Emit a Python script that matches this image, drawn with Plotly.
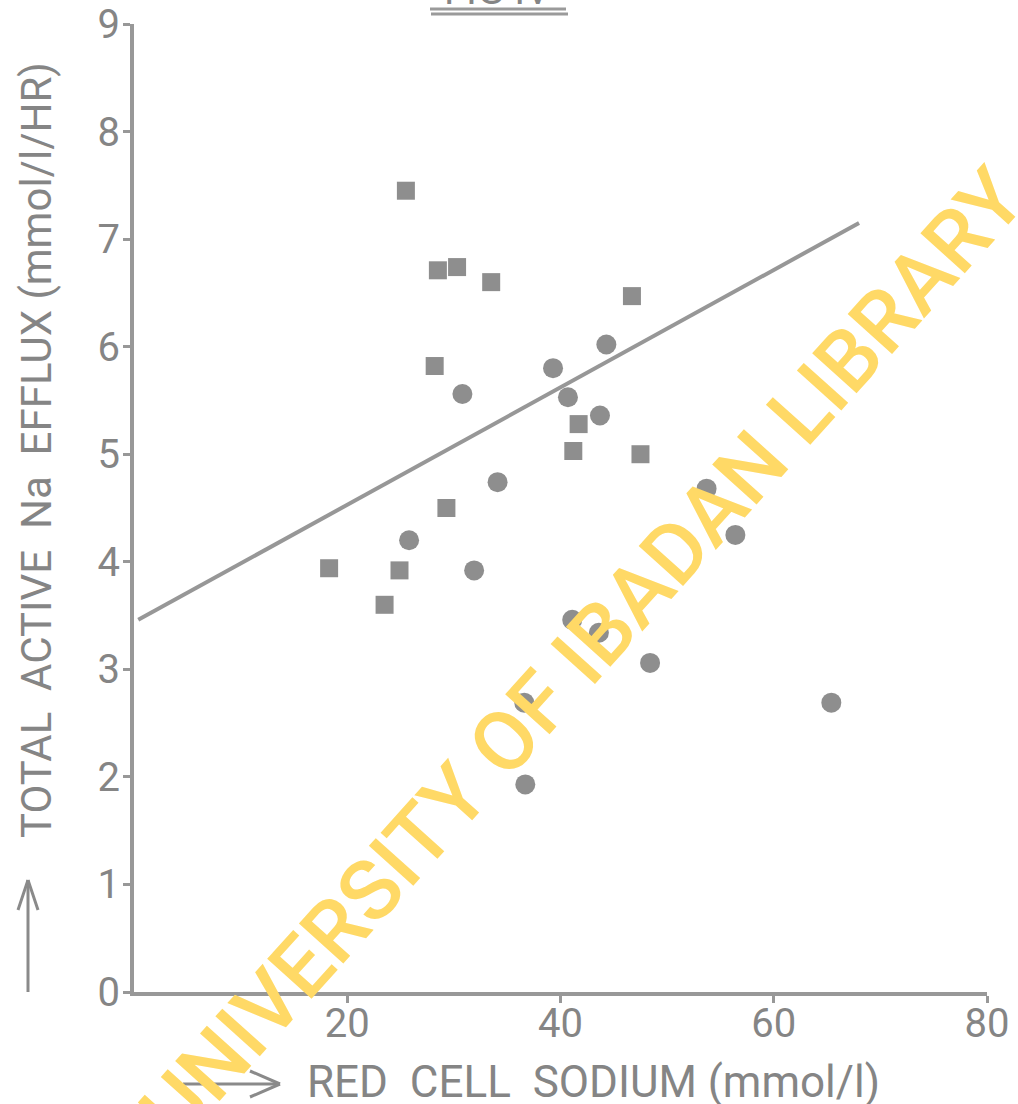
import plotly.graph_objects as go

# Red cell sodium (mmol/l) vs total active Na efflux (mmol/l/HR)
square_x = [25.5, 28.5, 30.3, 33.5, 46.7, 28.2, 41.7, 41.2, 47.5, 29.3, 18.3, 24.9, 23.5]
square_y = [7.45, 6.71, 6.74, 6.60, 6.47, 5.82, 5.28, 5.03, 5.00, 4.50, 3.94, 3.92, 3.60]

circle_x = [39.3, 44.3, 30.8, 40.7, 43.7, 34.1, 25.8, 31.9, 53.7, 56.4, 41.1, 43.6, 48.4, 36.6, 36.7, 65.4]
circle_y = [5.80, 6.02, 5.56, 5.53, 5.36, 4.74, 4.20, 3.92, 4.68, 4.25, 3.46, 3.34, 3.06, 2.69, 1.93, 2.69]

# regression line end points
fit_x = [0.4, 68.0]
fit_y = [3.46, 7.15]

x_ticks = [20, 40, 60, 80]
y_ticks = [0, 1, 2, 3, 4, 5, 6, 7, 8, 9]

W, H = 1018, 1104
ML, MR, MT, MB = 134, 31, 24, 112
PW, PH = W - ML - MR, H - MT - MB

INK = "#8e8e8e"
TXT = "#858585"
FONT = "Roboto, 'DejaVu Sans', sans-serif"


def px(xp):
    return (xp - ML) / PW


def py(yp):
    return (H - MB - yp) / PH


fig = go.Figure()

fig.add_trace(go.Scatter(
    x=fit_x, y=fit_y, mode="lines",
    line=dict(color="#979797", width=4), hoverinfo="skip", showlegend=False,
))
fig.add_trace(go.Scatter(
    x=square_x, y=square_y, mode="markers",
    marker=dict(symbol="square", size=18, color=INK, line=dict(width=0)),
    showlegend=False,
))
fig.add_trace(go.Scatter(
    x=circle_x, y=circle_y, mode="markers",
    marker=dict(symbol="circle", size=20, color=INK, line=dict(width=0)),
    showlegend=False,
))

axis_common = dict(
    showline=True, linecolor="#989898", linewidth=4, mirror=False,
    ticks="outside", tickcolor="#989898", tickwidth=3, ticklen=7,
    showgrid=False, zeroline=False, automargin=False,
    tickfont=dict(family=FONT, size=40, color=TXT),
)

fig.update_layout(
    width=W, height=H,
    margin=dict(l=ML, r=MR, t=MT, b=MB),
    paper_bgcolor="white", plot_bgcolor="white",
    xaxis=dict(range=[0, 80], tickvals=x_ticks, ticklabelstandoff=-14, **axis_common),
    yaxis=dict(range=[0, 9], tickvals=y_ticks, ticklabelstandoff=-5, **axis_common),
    showlegend=False,
)

annotations = [
    # library watermark
    dict(text="UNIVERSITY OF IBADAN LIBRARY", x=px(582), y=py(655),
         xref="paper", yref="paper", showarrow=False, textangle=-48,
         font=dict(family="Roboto, 'Liberation Sans', sans-serif", size=84,
                   color="#FFD966", weight=500),
         xanchor="center", yanchor="middle"),
    # axis titles
    dict(text="RED  CELL  SODIUM (mmol/l)", x=px(305), y=py(1082),
         xref="paper", yref="paper", showarrow=False,
         font=dict(family=FONT, size=44, color=TXT), xanchor="left", yanchor="middle"),
    dict(text="TOTAL  ACTIVE  Na  EFFLUX (mmol/l/HR)", x=px(36), y=py(450),
         xref="paper", yref="paper", showarrow=False, textangle=-90,
         font=dict(family=FONT, size=42, color=TXT), xanchor="center", yanchor="middle"),
    # figure caption, cut at the page edge
    dict(text="FIG IV", x=px(497), y=py(16),
         xref="paper", yref="paper", showarrow=False,
         font=dict(family=FONT, size=40, color=TXT), xanchor="center", yanchor="bottom"),
]
fig.update_layout(annotations=annotations)


def seg(x0, y0, x1, y1, width=3, color="#8a8a8a"):
    return dict(type="line", xref="paper", yref="paper",
                x0=px(x0), y0=py(y0), x1=px(x1), y1=py(y1),
                line=dict(color=color, width=width), layer="above")


shapes = [
    # vertical arrow beside the y title
    seg(28, 992, 28, 880),
    seg(28, 880, 18, 910),
    seg(28, 880, 38, 910),
    # horizontal arrow before the x title
    seg(183, 1084, 280, 1084),
    seg(280, 1084, 250, 1071),
    seg(280, 1084, 250, 1097),
    # double underline of the caption
    seg(430, 9, 566, 9, width=3, color="#9a9a9a"),
    seg(431, 14, 568, 14, width=3, color="#9a9a9a"),
]
fig.update_layout(shapes=shapes)

fig.write_html("out.html")
